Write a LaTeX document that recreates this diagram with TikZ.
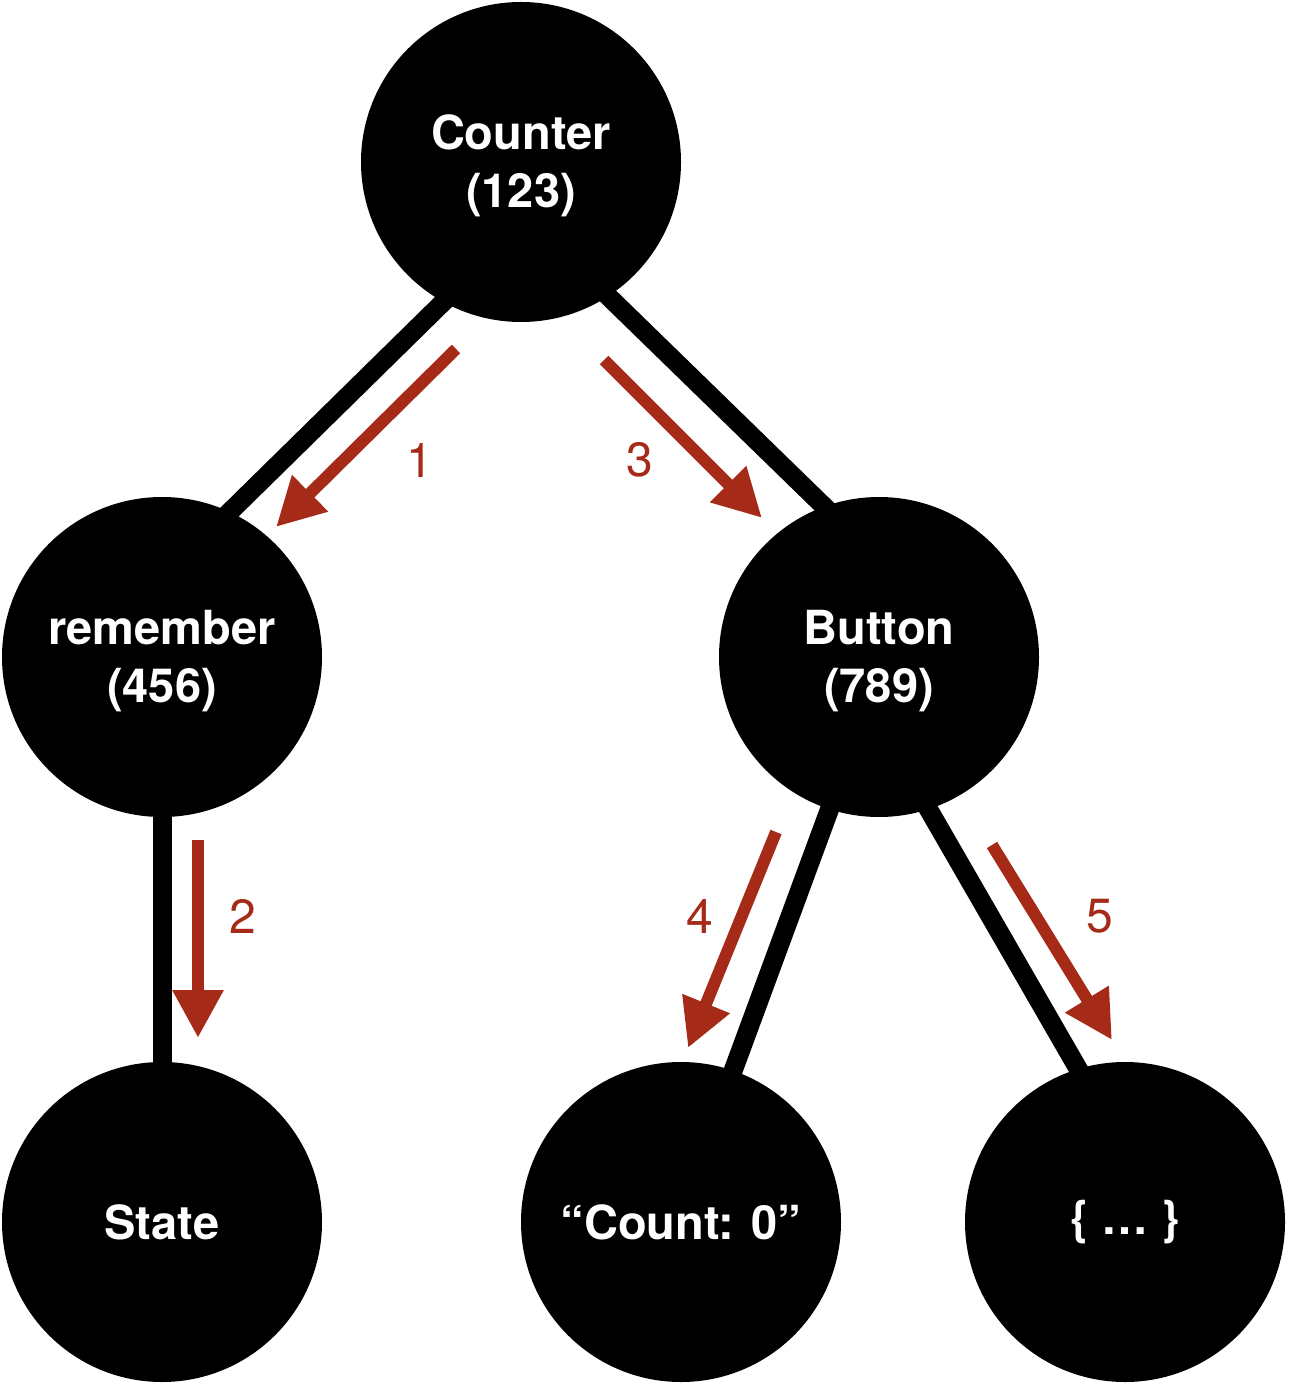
\documentclass[tikz,border=0pt]{standalone}
\usepackage{fontspec}
\setmainfont{TeX Gyre Heros}
\usetikzlibrary{arrows.meta}
\definecolor{callred}{RGB}{165,42,24}
\newcommand{\twoline}[2]{{\setlength{\tabcolsep}{0pt}%
  \begin{tabular}{c}\rule{0pt}{25.3pt}#1\\#2\end{tabular}}}
\tikzset{
  comp/.style={circle, fill=black, minimum size=160pt, inner sep=0pt,
    outer sep=0pt, text=white, align=center,
    font=\bfseries\fontsize{23.5}{29}\selectfont},
  tree/.style={line width=9.5pt, shorten <=-10pt, shorten >=-10pt},
  order/.style={draw=callred, line width=6pt,
    -{Triangle[width=24pt,length=24pt]}, callred},
  num/.style={text=callred, font=\fontsize{24}{28}\selectfont}
}
\begin{document}
\begin{tikzpicture}[x=0.5pt,y=-0.5pt]
      \useasboundingbox (0,0) rectangle (1288,1384);
      \path
        (521,162) node[comp] (counter){\twoline{Counter}{(123)}}
        (162,657) node[comp] (remember){\twoline{remember}{(456)}}
        (879,657) node[comp] (button){\twoline{Button}{(789)}}
        (162,1222) node[comp] (state){State}
        (681,1222) node[comp] (text){“Count: 0”}
        (1125,1222) node[comp] (lambda){\{ … \}};
      \begin{scope}[tree]
        \draw (counter.241) to (remember.65);
        \draw (counter.303) to (button.110);
        \draw (remember.south) to (state.north);
        \draw (button.252) to (text.71);
        \draw (button.288) to (lambda.107);
      \end{scope}
      % order of composition
      \coordinate (s1) at (456,349);  \coordinate (e1) at (276,527);
      \coordinate (s2) at (198,840);  \coordinate (e2) at (198,1038);
      \coordinate (s3) at (604,360);  \coordinate (e3) at (762,518);
      \coordinate (s4) at (776,832);  \coordinate (e4) at (688,1048);
      \coordinate (s5) at (992,845);  \coordinate (e5) at (1112,1040);
      \begin{scope}[order]
        \draw (s1) to (e1);
        \draw (s2) to (e2);
        \draw (s3) to (e3);
        \draw (s4) to (e4);
        \draw (s5) to (e5);
      \end{scope}
      \node[num] (n1) at (420,460) {1};
      \node[num] (n2) at (243,916) {2};
      \node[num] (n3) at (640,460) {3};
      \node[num] (n4) at (700,916) {4};
      \node[num] (n5) at (1100,916) {5};
    \end{tikzpicture}
\end{document}
